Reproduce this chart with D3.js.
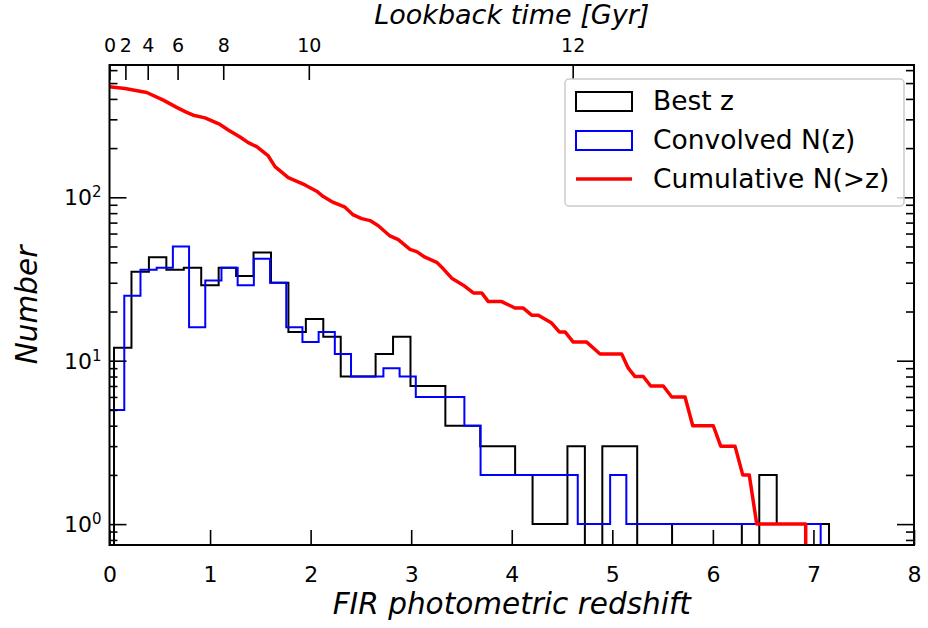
<!DOCTYPE html>
<html>
<head>
<meta charset="utf-8">
<script src="https://cdn.jsdelivr.net/npm/d3@7"></script>
<style>
  body { margin: 0; background: #fff; }
  svg { display: block; font-family: "DejaVu Sans", sans-serif; }
</style>
</head>
<body>
<div class="chart"></div>
<script>
// --- Data ---
// "Best z" histogram: 41 equal bins between these redshifts
const bestZRange = [0.045, 7.155];
const bestZCounts = [12, 35, 43, 36, 37, 29, 37, 33, 46, 30, 15, 18, 14, 8, 8, 11, 14, 7, 7, 4,
                     4, 3, 3, 2, 1, 1, 3, 0, 3, 3, 0, 0, 1, 1, 1, 1, 0, 2, 1, 1, 1];

// Convolved N(z): 44 equal bins
const convolvedRange = [-0.014, 7.072];
const convolvedCounts = [5, 25, 36, 37, 50, 16, 31, 37, 29, 42, 30, 16, 13, 15, 11, 8, 8, 9, 8, 6,
                         6, 6, 4, 2, 2, 2, 2, 2, 2, 1, 1, 2, 1, 1, 1, 1, 1, 1, 1, 1, 1, 1, 1, 1];

// Cumulative N(>z)
const cumZ = [0, 0.154, 0.370, 0.535, 0.668, 0.768, 0.833, 0.950, 1.099, 1.181, 1.298, 1.380, 1.464,
              1.579, 1.646, 1.778, 1.944, 2.060, 2.126, 2.226, 2.342, 2.424, 2.508, 2.591, 2.673,
              2.789, 2.872, 2.988, 3.055, 3.137, 3.254, 3.319, 3.403, 3.518, 3.618, 3.701, 3.767,
              3.900, 4.032, 4.115, 4.198, 4.264, 4.397, 4.473, 4.530, 4.612, 4.745, 4.878, 5.093,
              5.159, 5.226, 5.308, 5.382, 5.507, 5.591, 5.723, 5.800, 6.004, 6.078, 6.220, 6.297,
              6.362, 6.436, 6.923, 6.923];
const cumN = [474, 463, 438, 393, 355, 331, 318, 306, 279, 258, 234, 216, 204,
              179, 154, 132, 119, 109, 101, 93, 87, 78, 74, 72, 67,
              58, 55, 48, 46.5, 43, 40, 36.5, 32, 29, 26, 26, 23,
              23, 21, 21, 19, 19, 17, 15, 15, 13, 13, 11, 11,
              9, 8, 8, 7, 7, 6, 6, 4, 4, 3, 3, 2,
              2, 1, 1, 0];

// Top axis: lookback time labels and the redshifts they sit at
const lookbackLabels = ["0", "2", "4", "6", "8", "10", "12"];
const lookbackZ = [0, 0.158, 0.380, 0.677, 1.131, 1.982, 4.606];

const xTicks = [0, 1, 2, 3, 4, 5, 6, 7, 8];
const yMajor = [1, 10, 100];
const yMinor = [0.8, 0.9, 2, 3, 4, 5, 6, 7, 8, 9, 20, 30, 40, 50, 60, 70, 80, 90, 200, 300, 400, 500, 600];

const legendItems = [
    { label: "Best z", color: "#000", kind: "box" },
    { label: "Convolved N(z)", color: "#0000ff", kind: "box" },
    { label: "Cumulative N(>z)", color: "#ff0000", kind: "line" }
];

// --- Layout ---
const W = 928, H = 628;
const margin = { top: 65, right: 14, bottom: 83, left: 109.5 };
const innerW = W - margin.left - margin.right;
const innerH = H - margin.top - margin.bottom;

const svg = d3.select(".chart").append("svg")
    .attr("width", W)
    .attr("height", H);

const x = d3.scaleLinear().domain([0, 8]).range([0, innerW]);
const y = d3.scaleLog().domain([0.745, 645]).range([innerH, 0]).clamp(true);
const yv = v => y(Math.max(v, 1e-3));   // zeros fall to the bottom like matplotlib's clip

const g = svg.append("g").attr("transform", `translate(${margin.left},${margin.top})`);

g.append("clipPath").attr("id", "plot-clip")
  .append("rect").attr("width", innerW).attr("height", innerH);

// histogram outline as matplotlib's histtype="step"
const stepPoints = (range, counts) => {
    const w = (range[1] - range[0]) / counts.length;
    const pts = [[range[0], 0]];
    counts.forEach((c, i) => {
        pts.push([range[0] + i * w, c]);
        pts.push([range[0] + (i + 1) * w, c]);
    });
    pts.push([range[1], 0]);
    return pts;
};

const line = d3.line().x(d => x(d[0])).y(d => yv(d[1]));

const plot = g.append("g").attr("clip-path", "url(#plot-clip)");

plot.append("path")
    .attr("d", line(stepPoints(bestZRange, bestZCounts)))
    .attr("fill", "none").attr("stroke", "#000").attr("stroke-width", 2);

plot.append("path")
    .attr("d", line(stepPoints(convolvedRange, convolvedCounts)))
    .attr("fill", "none").attr("stroke", "#0000ff").attr("stroke-width", 2);

plot.append("path")
    .attr("d", line(cumZ.map((z, i) => [z, cumN[i]])))
    .attr("fill", "none").attr("stroke", "#ff0000").attr("stroke-width", 3.5)
    .attr("stroke-linejoin", "round");

// --- Axes (ticks point inward) ---
const styleAxis = (sel, fs) => {
    sel.select(".domain").remove();
    sel.selectAll(".tick line").attr("stroke", "#000").attr("stroke-width", 1.6);
    sel.selectAll(".tick text").attr("fill", "#000").style("font-size", fs + "px")
        .style("font-family", "DejaVu Sans");
};

g.append("g").attr("transform", `translate(0,${innerH})`)
    .call(d3.axisBottom(x).tickValues(xTicks).tickSize(-15).tickPadding(21).tickFormat(d3.format("d")))
    .call(s => styleAxis(s, 22));

g.append("g")
    .call(d3.axisTop(x).tickValues(lookbackZ).tickSize(-15).tickPadding(13)
        .tickFormat((d, i) => lookbackLabels[i]))
    .call(s => styleAxis(s, 19));

const yLeft = g.append("g")
    .call(d3.axisLeft(y).tickValues(yMajor).tickSize(-17).tickPadding(8).tickFormat(() => ""))
    .call(s => styleAxis(s, 22));
yLeft.selectAll(".tick text").each(function(d) {
    const t = d3.select(this).attr("dy", "0.35em");
    t.append("tspan").text("10");
    t.append("tspan").attr("dy", "-0.55em").style("font-size", "15px").text(Math.round(Math.log10(d)));
});

g.append("g")
    .call(d3.axisLeft(y).tickValues(yMinor).tickSize(-8).tickFormat(() => ""))
    .call(s => styleAxis(s, 22));

g.append("g").attr("transform", `translate(${innerW},0)`)
    .call(d3.axisRight(y).tickValues(yMajor).tickSize(-17).tickFormat(() => ""))
    .call(s => styleAxis(s, 22));

g.append("g").attr("transform", `translate(${innerW},0)`)
    .call(d3.axisRight(y).tickValues(yMinor).tickSize(-8).tickFormat(() => ""))
    .call(s => styleAxis(s, 22));

// frame
g.append("rect")
    .attr("width", innerW).attr("height", innerH)
    .attr("fill", "none").attr("stroke", "#000").attr("stroke-width", 2);

// --- Axis titles ---
svg.append("text")
    .attr("x", margin.left + innerW / 2).attr("y", 614)
    .attr("text-anchor", "middle")
    .style("font-size", "29.5px").style("font-style", "italic")
    .text("FIR photometric redshift");

svg.append("text")
    .attr("x", margin.left + innerW / 2).attr("y", 24)
    .attr("text-anchor", "middle")
    .style("font-size", "27px").style("font-style", "italic")
    .text("Lookback time [Gyr]");

svg.append("text")
    .attr("transform", `translate(37,${margin.top + innerH / 2}) rotate(-90)`)
    .attr("text-anchor", "middle")
    .style("font-size", "29.5px").style("font-style", "italic")
    .text("Number");

// --- Legend ---
const legend = svg.append("g").attr("transform", "translate(565,79)");
legend.append("rect")
    .attr("width", 339).attr("height", 127).attr("rx", 4)
    .attr("fill", "#fff").attr("fill-opacity", 0.8)
    .attr("stroke", "#cccccc").attr("stroke-width", 1.5);

const rows = legend.selectAll(".row").data(legendItems).enter().append("g")
    .attr("transform", (d, i) => `translate(0,${22 + i * 39})`);

rows.filter(d => d.kind === "box").append("rect")
    .attr("x", 11).attr("y", -9).attr("width", 56).attr("height", 19)
    .attr("fill", "none").attr("stroke", d => d.color).attr("stroke-width", 2);

rows.filter(d => d.kind === "line").append("line")
    .attr("x1", 11).attr("x2", 67).attr("y1", 0).attr("y2", 0)
    .attr("stroke", d => d.color).attr("stroke-width", 3.5);

rows.append("text")
    .attr("x", 88).attr("y", 0).attr("dy", "0.35em")
    .style("font-size", "26.5px")
    .text(d => d.label);
</script>
</body>
</html>
